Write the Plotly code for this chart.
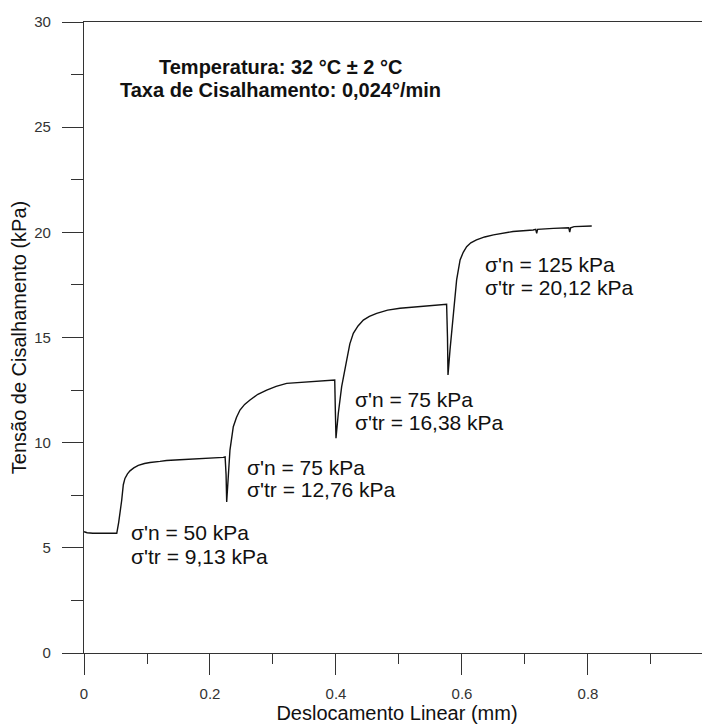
import plotly.graph_objects as go

# Curve (displacement in mm, shear stress in kPa)
displacement_mm = [
    0.000, 0.005, 0.014, 0.052, 0.055, 0.058, 0.0598, 0.0624, 0.0650, 0.0690, 0.0730,
    0.0790, 0.0862, 0.0960, 0.1048, 0.1206, 0.131, 0.152, 0.184, 0.221, 0.224, 0.2255, 0.2265,
    0.229, 0.2317, 0.237, 0.242, 0.2476, 0.255, 0.2635, 0.276, 0.29, 0.305, 0.3217, 0.345,
    0.3746, 0.398, 0.399, 0.400,
    0.4037, 0.409, 0.417, 0.422, 0.4275, 0.435, 0.4434, 0.453, 0.4646, 0.482, 0.5016, 0.5386,
    0.5756, 0.577, 0.5778,
    0.581, 0.586, 0.5915, 0.597, 0.602, 0.6074, 0.614, 0.623, 0.636, 0.65, 0.665, 0.681, 0.713,
    0.7170, 0.7186, 0.7200, 0.745, 0.7695, 0.771, 0.7725, 0.778, 0.806,
]
shear_kpa = [
    5.77, 5.72, 5.69, 5.69, 6.20, 6.80, 7.25, 8.00, 8.30, 8.52, 8.66,
    8.80, 8.92, 9.01, 9.06, 9.11, 9.15, 9.19, 9.23, 9.30, 9.32, 8.50, 7.18,
    8.23, 9.65, 10.76, 11.20, 11.55, 11.82, 12.03, 12.30, 12.50, 12.68, 12.82, 12.87,
    12.90, 12.98, 11.50, 10.21,
    11.40, 12.66, 13.93, 14.70, 15.20, 15.55, 15.83, 16.00, 16.15, 16.30, 16.39, 16.50,
    16.58, 15.00, 13.22,
    14.41, 16.15, 17.74, 18.69, 19.05, 19.32, 19.50, 19.64, 19.78, 19.88, 19.97, 20.04, 20.11,
    20.14, 19.95, 20.14, 20.19, 20.22, 20.01, 20.22, 20.27, 20.30,
]

# Stage labels
label_line1 = ["σ'n = 50 kPa", "σ'n = 75 kPa", "σ'n = 75 kPa", "σ'n = 125 kPa"]
label_line2 = ["σ'tr = 9,13 kPa", "σ'tr = 12,76 kPa", "σ'tr = 16,38 kPa", "σ'tr = 20,12 kPa"]
label_x = [0.0714, 0.2556, 0.427, 0.633]
label_y1 = [5.71, 8.81, 12.04, 18.47]
label_y2 = [4.57, 7.76, 10.95, 17.37]

title_lines = ["Temperatura: 32 °C ± 2 °C", "Taxa de Cisalhamento: 0,024°/min"]
title_x = 0.3127
title_y = [27.84, 26.75]

x_ticks = [0, 0.2, 0.4, 0.6, 0.8]
x_tick_text = ["0", "0.2", "0.4", "0.6", "0.8"]
y_ticks = [0, 5, 10, 15, 20, 25, 30]
y_tick_text = ["0", "5", "10", "15", "20", "25", "30"]

FONT = "Liberation Sans, Arial, sans-serif"
AXC = "#333333"

fig = go.Figure()
fig.add_trace(go.Scatter(
    x=displacement_mm, y=shear_kpa, mode="lines",
    line=dict(color="#111111", width=1.4), showlegend=False, hoverinfo="skip",
))

annotations = []
for i in range(len(label_line1)):
    for txt, yy in ((label_line1[i], label_y1[i]), (label_line2[i], label_y2[i])):
        annotations.append(dict(
            x=label_x[i], y=yy, xref="x", yref="y", text=txt, showarrow=False,
            xanchor="left", yanchor="middle",
            font=dict(family=FONT, size=21, color="#111111"),
        ))
for txt, yy in zip(title_lines, title_y):
    annotations.append(dict(
        x=title_x, y=yy, xref="x", yref="y", text="<b>" + txt + "</b>", showarrow=False,
        xanchor="center", yanchor="middle",
        font=dict(family=FONT, size=20, color="#111111"),
    ))

# the page body adds an 8px offset, so the figure is sized to fit the 710x724 window
fig.update_layout(
    width=702, height=716,
    margin=dict(l=76, r=0, t=14, b=71, pad=0),
    paper_bgcolor="white", plot_bgcolor="white",
    font=dict(family=FONT, color=AXC),
    annotations=annotations,
    xaxis=dict(
        range=[0, 0.9937], showgrid=False, zeroline=False, automargin=False,
        showline=True, linecolor=AXC, linewidth=1.3, mirror=True,
        tickmode="array", tickvals=x_ticks, ticktext=x_tick_text,
        ticks="outside", ticklen=21, tickwidth=1.3, tickcolor=AXC,
        ticklabelstandoff=6,
        tickfont=dict(family=FONT, size=15, color=AXC),
        minor=dict(dtick=0.1, tick0=0.1, ticks="outside", ticklen=10, tickwidth=1.3, tickcolor=AXC, showgrid=False),
        title=dict(text="Deslocamento Linear (mm)", font=dict(family=FONT, size=20, color="#111111"), standoff=0),
    ),
    yaxis=dict(
        range=[0, 30], showgrid=False, zeroline=False, automargin=False,
        showline=True, linecolor=AXC, linewidth=1.3,
        tickmode="array", tickvals=y_ticks, ticktext=y_tick_text,
        ticks="outside", ticklen=21, tickwidth=1.3, tickcolor=AXC,
        ticklabelstandoff=8,
        tickfont=dict(family=FONT, size=15, color=AXC),
        minor=dict(dtick=2.5, tick0=0, ticks="outside", ticklen=12, tickwidth=1.3, tickcolor=AXC, showgrid=False),
        title=dict(text="Tensão de Cisalhamento (kPa)", font=dict(family=FONT, size=20, color="#111111"), standoff=4),
    ),
)

fig.write_html("out.html")
